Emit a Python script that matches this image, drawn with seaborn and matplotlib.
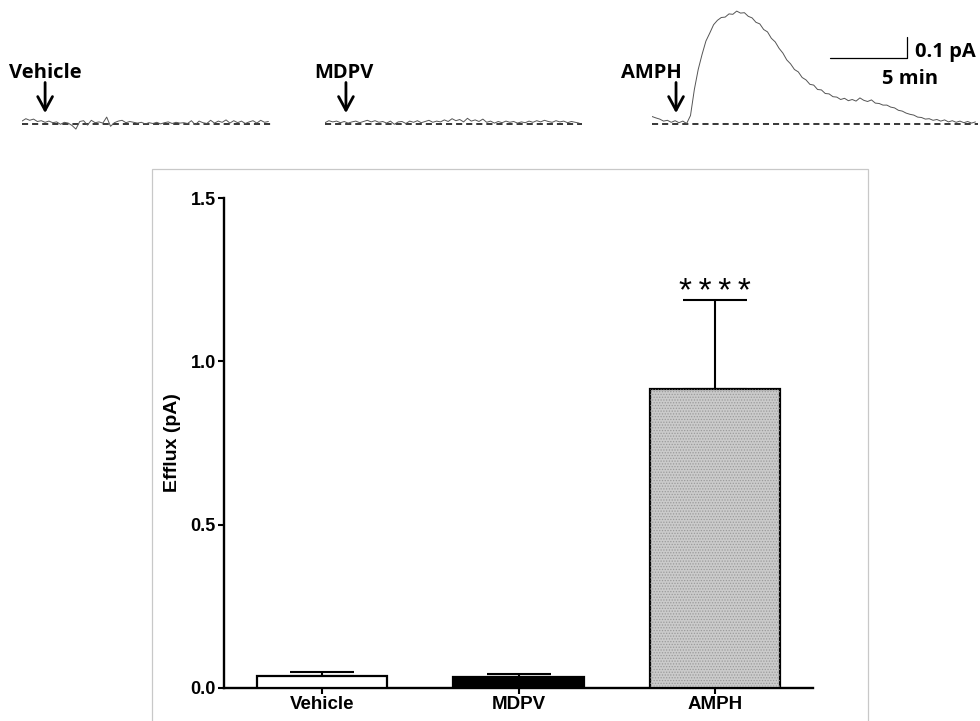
import numpy as np
import pandas as pd
import matplotlib
matplotlib.use("Agg")
import matplotlib.pyplot as plt
import seaborn as sns
from matplotlib.patches import Rectangle
from matplotlib.ticker import FormatStrFormatter

# ======================
# Data
# ======================
groups = ["Vehicle", "MDPV", "AMPH"]
efflux_mean = [0.038, 0.034, 0.915]
efflux_sem = [0.011, 0.009, 0.273]
bar_colors = ["white", "black", "#cbcbcb"]
yticks = [0.0, 0.5, 1.0, 1.5]
signif = "*\u2009*\u2009*\u2009*"

# amperometric traces (pA), one sample every 0.25 min
dt_min = 0.25
vehicle_pa = [
    0.012, 0.024, 0.016, 0.022, 0.010, 0.014, 0.006, 0.012, 0.004, 0.008,
    -0.004, 0.006, 0.002, -0.010, -0.028, 0.010, 0.014, -0.008, 0.016, 0.004,
    0.008, 0.002, 0.032, -0.014, 0.004, 0.012, 0.016, 0.004, 0.010, 0.006,
    0.002, 0.006, -0.002, 0.004, 0.000, 0.006, -0.002, 0.004, 0.008, 0.000,
    0.006, 0.002, 0.004, 0.000, 0.014, -0.006, 0.012, 0.004, 0.000, 0.016,
    0.002, 0.012, 0.006, 0.018, 0.002, 0.014, 0.004, 0.012, 0.000, 0.008,
    0.014, 0.002, 0.016, 0.006, 0.010]
mdpv_pa = [
    0.004, 0.014, 0.008, 0.012, 0.004, 0.010, 0.002, 0.008, 0.012, 0.004,
    0.010, 0.016, 0.008, 0.014, 0.006, 0.010, 0.002, 0.012, -0.004, 0.008,
    0.010, 0.000, 0.012, 0.006, 0.014, 0.004, 0.010, 0.016, 0.006, 0.012,
    0.008, 0.018, 0.010, 0.024, 0.014, 0.020, 0.008, 0.026, 0.012, 0.018,
    0.010, 0.022, 0.006, 0.012, 0.002, 0.010, 0.004, 0.012, 0.006, 0.010,
    0.002, 0.008, 0.004, 0.012, 0.006, 0.014, 0.008, 0.016, 0.010, 0.006,
    0.014, 0.008, 0.012, 0.004, 0.010, 0.006, 0.002]
amph_pa = [
    0.035, 0.028, 0.022, 0.012, 0.016, 0.006, 0.014, 0.004, 0.012, 0.000,
    0.040, 0.170, 0.270, 0.345, 0.412, 0.452, 0.494, 0.516, 0.530, 0.532,
    0.548, 0.546, 0.562, 0.552, 0.554, 0.536, 0.528, 0.506, 0.498, 0.470,
    0.458, 0.426, 0.408, 0.376, 0.352, 0.318, 0.298, 0.270, 0.258, 0.230,
    0.218, 0.196, 0.192, 0.170, 0.168, 0.150, 0.148, 0.134, 0.132, 0.120,
    0.126, 0.114, 0.120, 0.112, 0.128, 0.116, 0.110, 0.118, 0.102, 0.100,
    0.092, 0.092, 0.082, 0.078, 0.066, 0.062, 0.052, 0.046, 0.042, 0.032,
    0.030, 0.022, 0.024, 0.016, 0.020, 0.012, 0.018, 0.008, 0.014, 0.006,
    0.012, 0.004, 0.010, 0.002, 0.008]
drug_time_min = [1.5, 1.36, 1.56]
scale_min = 5
scale_pa = 0.1

# ======================
# Layout helpers (pixels)
# ======================
W, H = 980, 721
PX_PER_MIN = 15.4
PX_PER_PA = 200
TRACE_BOTTOM = 135
BASE_Y = 123.5

sns.set_theme(style="ticks")
plt.rcParams["font.family"] = ["Liberation Sans", "DejaVu Sans"]
plt.rcParams["text.color"] = "black"
plt.rcParams["axes.labelcolor"] = "black"
plt.rcParams["hatch.linewidth"] = 0.6

fig = plt.figure(figsize=(W / 100, H / 100), dpi=100)


def trace_axes(x0, x1):
    ax = fig.add_axes([x0 / W, 1 - TRACE_BOTTOM / H, (x1 - x0) / W, TRACE_BOTTOM / H])
    ax.set_xlim(0, (x1 - x0) / PX_PER_MIN)
    ax.set_ylim(-(TRACE_BOTTOM - BASE_Y) / PX_PER_PA, BASE_Y / PX_PER_PA)
    ax.axis("off")
    return ax


label_font = dict(family=["Open Sans", "DejaVu Sans"], fontweight="bold",
                  fontsize=14.5, color="black")

traces = [vehicle_pa, mdpv_pa, amph_pa]
trace_px = [(22, 300), (325, 600), (652, 980)]
label_dx = [0.0, -0.15, -1.6]
trace_axs = []
for name, values, (x0, x1), t_drug, dx in zip(groups, traces, trace_px, drug_time_min, label_dx):
    ax = trace_axes(x0, x1)
    t = np.arange(len(values)) * dt_min
    ax.plot([t[0], t[-1] + 0.2], [0, 0], color="black", lw=1.1,
            linestyle=(0, (4, 2.6)), zorder=1)
    sns.lineplot(x=t, y=values, ax=ax, color="#555555", lw=0.7, zorder=2)
    ax.annotate("", xy=(t_drug, 0.052), xytext=(t_drug, 0.205),
                arrowprops=dict(arrowstyle="->,head_length=0.7,head_width=0.38",
                                lw=2, color="black", shrinkA=0, shrinkB=0,
                                mutation_scale=14),
                annotation_clip=False)
    ax.text(t_drug + dx, 0.23, name, ha="center", va="baseline",
            clip_on=False, **label_font)
    trace_axs.append(ax)

# scale bar on the AMPH trace
ax = trace_axs[2]
sb_x0, sb_y0 = 11.56, 0.33
ax.plot([sb_x0, sb_x0 + scale_min, sb_x0 + scale_min],
        [sb_y0, sb_y0, sb_y0 + scale_pa], color="black", lw=0.9)
ax.text(sb_x0 + scale_min + 0.5, sb_y0, f"{scale_pa} pA", ha="left", va="baseline", **label_font)
ax.text(sb_x0 + scale_min + 0.2, sb_y0 - 0.135, f"{scale_min} min", ha="center",
        va="baseline", **label_font)

# ======================
# Bar chart
# ======================
fig.patches.append(Rectangle((152 / W, -0.05), (868 - 152) / W, 0.05 + 1 - 169 / H,
                             transform=fig.transFigure, fill=False,
                             edgecolor="#c8c8c8", lw=0.9))

ax = fig.add_axes([224 / W, 1 - 688 / H, (813 - 224) / W, (688 - 198) / H])
df = pd.DataFrame({"group": groups, "efflux": efflux_mean})
sns.barplot(data=df, x="group", y="efflux", hue="group",
            palette=dict(zip(groups, bar_colors)), edgecolor="black",
            linewidth=1.6, width=0.665, legend=False, ax=ax, zorder=3)
pos = np.arange(len(groups))
# stippled fill on the AMPH bar
ax.bar(pos[2], efflux_mean[2], width=0.665, facecolor="none",
       edgecolor="#9a9a9a", hatch="......", lw=0, zorder=3.5)
ax.errorbar(pos, efflux_mean, yerr=[np.zeros(len(groups)), efflux_sem],
            fmt="none", ecolor="black", elinewidth=1.5, capsize=23,
            capthick=1.5, zorder=2)
ax.text(pos[2], 1.185, signif, ha="center", va="baseline", fontsize=24,
        color="black")

ax.set_xlim(-0.5, 2.5)
ax.set_ylim(0, 1.5)
ax.set_yticks(yticks)
ax.yaxis.set_major_formatter(FormatStrFormatter("%.1f"))
ax.set_xlabel("")
ax.set_ylabel("Efflux (pA)", fontsize=14, fontweight="bold", labelpad=7)
sns.despine(ax=ax)
for side in ["left", "bottom"]:
    ax.spines[side].set_linewidth(1.7)
    ax.spines[side].set_color("black")
ax.tick_params(axis="both", direction="out", length=4, width=1.5,
               labelsize=13, pad=2, colors="black")
ax.tick_params(axis="x", labelsize=13.5)
for lab in ax.get_xticklabels() + ax.get_yticklabels():
    lab.set_fontweight("bold")

fig.savefig("out.png", dpi=100)
